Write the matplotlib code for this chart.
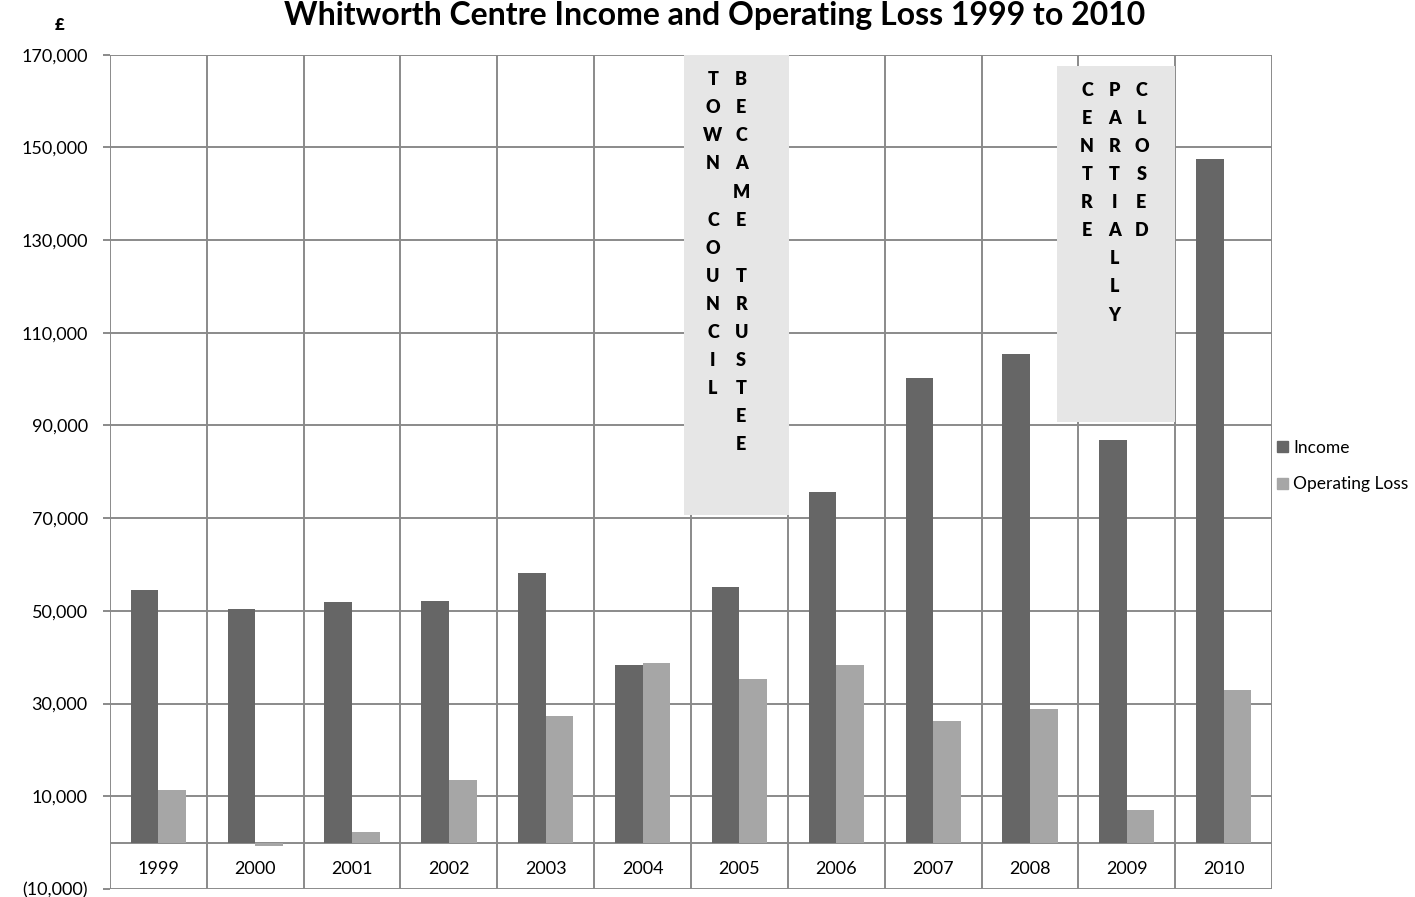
import matplotlib
matplotlib.use("Agg")
import matplotlib.pyplot as plt
from matplotlib.ticker import FuncFormatter
from matplotlib.patches import Patch

plt.rcParams['font.family'] = ['Lato', 'DejaVu Sans']

# ---------------------------
# data
# ---------------------------
years = ["1999", "2000", "2001", "2002", "2003", "2004",
         "2005", "2006", "2007", "2008", "2009", "2010"]
income = [54600, 50500, 51900, 52100, 58100, 38400,
          55200, 75600, 100200, 105500, 86800, 147400]
operating_loss = [11400, -800, 2200, 13600, 27300, 38700,
                  35300, 38400, 26200, 28900, 7000, 33000]

# notes shown as vertical letters in grey boxes
note1_columns = ["TOWN COUNCIL", "BECAME TRUSTEE"]
note2_columns = ["CENTRE", "PARTIALLY", "CLOSED"]

dark = "#666666"
light = "#a6a6a6"
grid_col = "#8a8a8a"
box_col = "#e6e6e6"

fig = plt.figure(figsize=(14.15, 8.97), dpi=100)
ax = fig.add_axes([0.0777, 0.0089, 0.8213, 0.9302])

n = len(years)
x = list(range(n))
w = 0.285
ax.bar([i - w / 2 for i in x], income, width=w, color=dark, zorder=3, label="Income")
ax.bar([i + w / 2 for i in x], operating_loss, width=w, color=light, zorder=3,
       label="Operating Loss")

ax.set_xlim(-0.5, n - 0.5)
ax.set_ylim(-10000, 170000)

# grid: horizontal at ticks, vertical at category boundaries
yticks = list(range(-10000, 170001, 20000))
ax.set_yticks(yticks)
ax.yaxis.set_major_formatter(FuncFormatter(
    lambda v, p: "({:,})".format(int(-v)) if v < 0 else "{:,}".format(int(v))))
for yt in yticks:
    ax.axhline(yt, color=grid_col, lw=1.4, zorder=1)
ax.axhline(0, color=grid_col, lw=1.4, zorder=1)
for b in range(n + 1):
    ax.axvline(b - 0.5, color=grid_col, lw=1.4, zorder=1)
for s in ax.spines.values():
    s.set_visible(False)

ax.set_xticks([])
ax.tick_params(axis="y", length=5, width=1.4, color=grid_col, pad=11, labelsize=13)
for yr, i in zip(years, x):
    ax.text(i, -5600, yr, ha="center", va="center", fontsize=13, zorder=4)

# annotation boxes
ax.fill_between([5.43, 6.51], 70700, 170000, color=box_col, zorder=2, lw=0)
ax.fill_between([9.28, 10.50], 90800, 167600, color=box_col, zorder=2, lw=0)

step = 6060


def letters(col_x, top, text):
    for k, ch in enumerate(text):
        if ch != " ":
            ax.text(col_x, top - k * step, ch, ha="center", va="center",
                    fontsize=13, fontweight="heavy", zorder=4)


for cx, col in zip([5.726, 6.018], note1_columns):
    letters(cx, 164600, col)
for cx, col in zip([9.59, 9.87, 10.15], note2_columns):
    letters(cx, 162300, col)

# title and currency mark
fig.text(0.505, 1 - 25 / 897, "Whitworth Centre Income and Operating Loss 1999 to 2010",
         ha="center", va="baseline", fontsize=23, fontweight="bold")
fig.text(60 / 1415, 1 - 25 / 897, "£", ha="center", va="center", fontsize=12,
         fontweight="heavy")

handles = [Patch(color=dark), Patch(color=light)]
fig.legend(handles, ["Income", "Operating Loss"], loc="center left",
           bbox_to_anchor=(1274 / 1415, 1 - 466 / 897), frameon=False,
           fontsize=12.5, handlelength=0.6, handleheight=0.6, handletextpad=0.3,
           labelspacing=1.2, borderaxespad=0.1, borderpad=0.1)

fig.savefig("out.png", dpi=100)
